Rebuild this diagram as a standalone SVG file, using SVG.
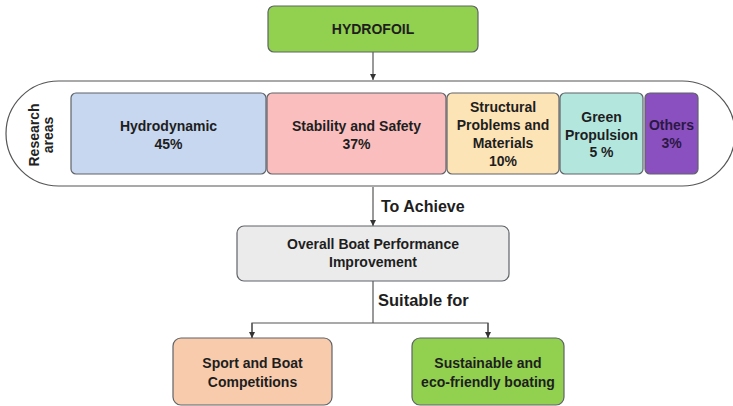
<svg xmlns="http://www.w3.org/2000/svg" width="733" height="406" viewBox="0 0 733 406">
<style>
.t{font-family:"Liberation Sans",Arial,sans-serif;font-weight:bold;font-size:14px;fill:#1e1e1e;text-anchor:middle}
.lbl{font-family:"Liberation Sans",Arial,sans-serif;font-weight:bold;font-size:16px;fill:#1e1e1e}
.box{stroke:#5f6368;stroke-width:1.2}
.ln{stroke:#555;stroke-width:1.2;fill:none}
</style>
<defs>
<marker id="ah" markerWidth="8" markerHeight="8" refX="6" refY="3" orient="auto" markerUnits="userSpaceOnUse">
<path d="M0,0 L6,3 L0,6 Z" fill="#333"/>
</marker>
</defs>
<rect width="733" height="406" fill="#ffffff"/>
<g id="connectors">
<line class="ln" x1="373" y1="52" x2="373" y2="80" marker-end="url(#ah)"/>
<line class="ln" x1="373" y1="187" x2="373" y2="226" marker-end="url(#ah)"/>
<line class="ln" x1="373" y1="281" x2="373" y2="323"/>
<polyline class="ln" points="252,339 252,323 488,323 488,339"/>
<line class="ln" x1="252" y1="323" x2="252" y2="338" marker-end="url(#ah)"/>
<line class="ln" x1="488" y1="323" x2="488" y2="338" marker-end="url(#ah)"/>
<text class="lbl" x="381" y="212">To Achieve</text>
<text class="lbl" x="378" y="306" style="font-size:16.5px">Suitable for</text>
</g>
<g id="hydrofoil">
<rect class="box" x="268" y="6" width="210" height="46" rx="6" fill="#92d050"/>
<text class="t" x="373" y="34">HYDROFOIL</text>
</g>
<g id="research-areas">
<rect x="6" y="81" width="729" height="105" rx="52.5" fill="#ffffff" stroke="#555" stroke-width="1.2"/>
<text class="t" transform="translate(38.5,135) rotate(-90)" style="fill:#222">Research</text>
<text class="t" transform="translate(52.5,135) rotate(-90)" style="fill:#222">areas</text>
</g>
<g id="hydrodynamic">
<rect class="box" x="71" y="93" width="195" height="81" rx="5" fill="#c6d7ef"/>
<text class="t" x="168.5" y="131">Hydrodynamic</text>
<text class="t" x="168.5" y="149">45%</text>
</g>
<g id="stability">
<rect class="box" x="267" y="93" width="179" height="81" rx="5" fill="#fbbebe"/>
<text class="t" x="356.5" y="131">Stability and Safety</text>
<text class="t" x="356.5" y="149">37%</text>
</g>
<g id="structural">
<rect class="box" x="447" y="93" width="112" height="81" rx="5" fill="#fde4b6"/>
<text class="t" x="503" y="112">Structural</text>
<text class="t" x="503" y="130">Problems and</text>
<text class="t" x="503" y="148">Materials</text>
<text class="t" x="503" y="166">10%</text>
</g>
<g id="green-propulsion">
<rect class="box" x="560" y="93" width="83" height="81" rx="5" fill="#b3e7de"/>
<text class="t" x="601.5" y="122">Green</text>
<text class="t" x="601.5" y="139.5">Propulsion</text>
<text class="t" x="601.5" y="157">5 %</text>
</g>
<g id="others">
<rect class="box" x="645" y="93" width="53" height="81" rx="5" fill="#8b50bf"/>
<text class="t" x="671.5" y="130" style="fill:#2c1845">Others</text>
<text class="t" x="671.5" y="148" style="fill:#2c1845">3%</text>
</g>
<g id="overall">
<rect class="box" x="237" y="226" width="272" height="55" rx="7" fill="#ebebeb"/>
<text class="t" x="373" y="249">Overall Boat Performance</text>
<text class="t" x="373" y="267">Improvement</text>
</g>
<g id="sport">
<rect class="box" x="173" y="338" width="159" height="67" rx="8" fill="#f8cbad"/>
<text class="t" x="252.5" y="368">Sport and Boat</text>
<text class="t" x="252.5" y="387">Competitions</text>
</g>
<g id="sustainable">
<rect class="box" x="412" y="338" width="152" height="67" rx="8" fill="#92d050"/>
<text class="t" x="488" y="368">Sustainable and</text>
<text class="t" x="488" y="387">eco-friendly boating</text>
</g>
</svg>
